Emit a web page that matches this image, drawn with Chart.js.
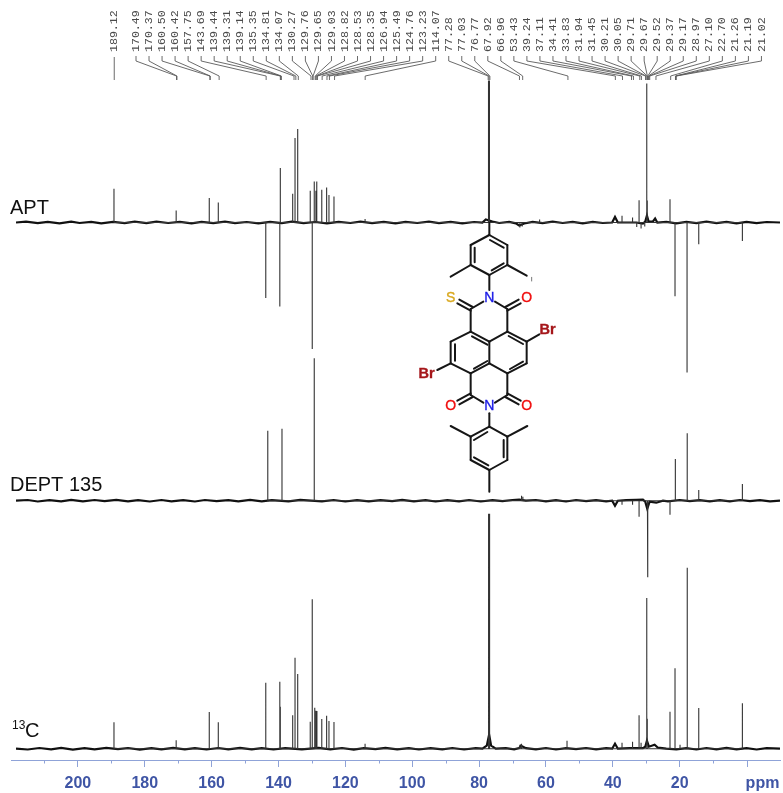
<!DOCTYPE html>
<html>
<head>
<meta charset="utf-8">
<title>APT, DEPT 135 and 13C NMR</title>
<script src="https://cdn.jsdelivr.net/npm/chart.js@4"></script>
<style>
html,body{margin:0;padding:0;background:#fff;}
canvas{display:block;filter:blur(0.35px);}
</style>
</head>
<body>
<canvas id="c" width="783" height="793"></canvas>
<script>
// ---- Peak tables (ppm, signed height) ----
const aptPeakPpm    = [189.2,170.6,160.7,158.0,143.8,139.6,139.45,135.75,135.05,134.25,130.5,129.9,129.3,128.8,128.55,127.05,125.6,124.9,123.4,114.1,77.3,77.1,76.9,67.8,67.1,61.9,37.25,34.1,32.85,32.15,31.55,30.45,29.85,29.7,22.9,21.4,17.8,14.3,1.25];
const aptPeakHeight = [33.7,12,24.5,20,-75.6,-84,54.4,28.7,84.4,93.4,31.7,-126.6,41,31.7,41,32.7,35,27.4,26,3.5,142,142,142,-5,-4,3,6.7,5,-4.5,22.3,-6,-4,139,22,23.3,-73.7,-150,-21.7,-18.4];
const deptPeakPpm    = [143.2,138.95,129.3,67.3,66.9,37.25,34.1,32.15,29.65,29.5,22.9,21.3,17.75,14.3,1.25];
const deptPeakHeight = [70,72,142.4,5,4,-4,-4,-16,-76.6,-18,-14,41.7,67.4,10.7,16.7];
const c13PeakPpm    = [189.2,170.6,160.7,158.0,143.8,139.6,139.45,135.75,135.05,134.25,130.5,129.9,129.15,128.8,128.5,127.05,125.6,124.9,123.4,114.1,77.25,77.1,76.95,76.8,67.8,67.3,53.7,37.25,34.1,32.15,31.55,29.85,29.7,22.9,21.4,19.9,17.8,17.7,14.3,1.25];
const c13PeakHeight = [26.4,8.4,36.7,26.4,66,67,42,33.4,91,74.7,27,149.4,41,38,37.7,29.7,33,27.7,26.7,5,30,235,235,30,4,5,8,6,7,33.4,6,150.7,30,37,80.4,4,181,181,40.7,45.4];

// ---- Baseline ripple (ppm, height), read by eye ----
const aptRipplePpm    = [218.5,215.5,212,209,205.5,202,199.5,196,193,189.5,186,183,179.5,176.5,173,169.5,166,163,159.5,156,153,149.5,146,142.5,139,136,132.5,129,125.5,122,118.5,115.5,112,108.5,105,102,98.5,95,92,88.5,85,81.5,79,78,76,74,71,69,68,66.5,64,61,58,55,52,49,46,43,40.2,39.35,38.5,36,33,31,30.3,29.8,29.3,28,27.35,26.7,24,21,18,15,12,9,6,3,0,-3,-6,-10];
const aptRippleHeight = [0,0.8,-0.7,0.6,-0.8,0.9,-0.5,0.7,-0.9,0.6,-0.6,0.8,-0.7,0.9,-0.5,0.6,-0.8,0.7,-0.6,0.9,-0.7,0.5,-0.8,0.7,-0.6,0.8,-0.7,0.5,-0.9,0.7,-0.5,0.8,-0.7,0.6,-0.8,0.7,-0.5,0.8,-0.6,0.6,-0.8,0.5,0,3,1,-0.5,0.6,-0.8,-3,-1,0.6,-0.7,0.8,-0.5,0.7,-0.8,0.6,-0.5,0,5.5,0,0,0,-1,1,7,1,1,4,0,0.7,-0.8,0.6,-0.7,0.8,-0.6,0.7,-0.8,0.6,-0.7,0.5,0];
const deptRipplePpm    = [218.5,215,212,208.5,205,202,198.5,195,192,188.5,185,182,178.5,175,172,168.5,165,162,158.5,155,152,148.5,145,142,137,133.5,127,123.5,120,116.5,113,109.5,106,103,99.5,96,93,89.5,86,83,79.5,76,73,70,68,66,63,60,57,54,51,48,45,42,40.2,39.35,38.5,36,33,31,30.3,29.7,29.0,27,25,23.5,20,17,14,11,8,5,2,-1,-4,-7,-10];
const deptRippleHeight = [0,0.7,-0.8,0.5,-0.7,0.8,-0.6,0.7,-0.5,0.8,-0.7,0.6,-0.8,0.7,-0.6,0.5,-0.8,0.7,-0.5,0.6,-0.7,0.8,-0.6,0.5,-0.7,0.8,-0.6,0.7,-0.8,0.5,-0.7,0.6,-0.5,0.8,-0.7,0.6,-0.8,0.5,-0.6,0.7,-0.8,0.6,-0.5,0.7,1,0,0.7,-0.6,0.5,-0.8,0.7,-0.5,0.6,-0.7,0,-5,0,0.5,0.8,1,-1,-8,-1,-2,0,-0.6,0.7,-0.5,0.6,-0.7,0.5,-0.6,0.7,-0.5,0.6,-0.7,0];
const c13RipplePpm    = [218.5,215,211.5,208,205,201.5,198,195,191.5,188,185,181.5,178,175,171.5,168,165,161.5,158,155,151.5,148,145,141.5,138,133,128,124.5,121,117.5,114.5,111,108,104.5,101,98,94.5,91,88,84.5,81,79,77.7,77,76.4,75,72,69.5,68,67.5,66,63,60,57,54,51,48,45,42,40.2,39.35,38.5,35,31,30.3,29.8,29.2,27.5,26.5,24,21,18,15,12,9,6,3,0,-3,-6,-10];
const c13RippleHeight = [0,-0.8,0.7,-0.6,0.8,-0.9,0.6,-0.7,0.8,-0.5,0.7,-0.9,0.6,-0.7,0.8,-0.6,0.5,-0.8,0.7,-0.6,0.8,-0.7,0.5,-0.8,0.6,-0.7,0.8,-0.6,0.7,-0.9,0.6,-0.5,0.8,-0.7,0.6,-0.8,0.5,-0.6,0.7,-0.8,0.6,0,3,14,3,0,0.6,-0.7,0.6,3,0.5,-0.6,0.7,-0.8,0.6,-0.5,0.7,-0.6,0.5,0,5,0,0.5,0.5,2,8,2,4,1,0,-0.7,0.6,-0.8,0.7,-0.6,0.8,-0.7,0.5,-0.8,0.6,0];

// ---- Axis and assigned-shift labels ----
const ppmTicks = [200,190,180,170,160,150,140,130,120,110,100,90,80,70,60,50,40,30,20,10,0,210];
const ppmLabelled = [200,180,160,140,120,100,80,60,40,20];
const shiftLabels = ["170.49","170.37","160.50","160.42","157.75","143.69","139.44","139.31","139.14","135.35","134.81","134.07","130.27","129.76","129.65","129.03","128.82","128.53","128.35","126.94","125.49","124.76","123.23","114.07","77.28","77.03","76.77","67.92","66.96","53.43","39.24","37.11","34.41","33.83","31.94","31.45","30.21","30.05","29.71","29.67","29.52","29.37","29.17","28.97","27.10","22.70","21.26","21.19","21.02"];
const isolatedLabel = "189.12";

// ---- Vertical offsets of the three stacked spectra on the shared scale ----
const offsetAPT = 537.5, offsetDEPT = 259.3, offsetC13 = 11.3;

function sticks(ppm, h, off){
  const pts = [];
  ppm.forEach((p,i)=>{ pts.push({x:p,y:off},{x:p,y:off+h[i]},{x:p,y:off}); });
  return pts;
}
function ripple(ppm, h, off){ return ppm.map((p,i)=>({x:p,y:off+h[i]})); }
const stickStyle = {showLine:true,pointRadius:0,borderColor:'#333',borderWidth:1.1,borderJoinStyle:'bevel',tension:0,parsing:false,normalized:false};
const baseStyle  = {showLine:true,pointRadius:0,borderColor:'#111',borderWidth:2.2,tension:0,parsing:false};

// ---- Molecule sketch, in a local coordinate frame ----
const molBonds = [
 // upper mesityl
 [268,-6,268,30],[268,30,322,60],[322,60,322,120],[322,120,268,150],[268,150,212,120],[212,120,212,60],[212,60,268,30],
 [224,68,224,112],[270,45,311,68],[275,136,311,115],
 [212,120,152,155],[322,120,380,152],[268,150,268,195],
 // upper imide
 [250,230,212,252],[285,230,322,252],[212,257,172,235],[218,246,178,224],[322,257,362,235],[316,246,356,224],
 [212,252,212,320],[322,252,322,320],
 // core
 [212,320,268,350],[216,334,262,359],[322,320,268,350],[268,350,268,415],[268,415,212,445],[222,431,262,408],[268,415,322,445],
 [212,320,152,350],[152,350,152,415],[165,358,165,407],[152,415,212,445],
 [322,320,380,350],[326,333,369,357],[380,350,380,415],[380,415,322,445],[330,432,369,410],
 [380,350,418,328],[152,415,112,435],
 // lower imide
 [212,445,212,510],[322,445,322,510],[212,510,250,533],[322,510,285,533],
 [212,505,172,527],[218,516,178,538],[322,505,362,527],[316,516,356,538],[268,565,268,605],
 // lower mesityl
 [268,605,322,635],[322,635,322,705],[322,705,268,735],[268,735,212,705],[212,705,212,635],[212,635,268,605],
 [222,645,262,621],[311,645,311,697],[222,697,265,721],
 [212,635,152,603],[322,635,382,603],[268,735,268,800]
];
const molAtoms = [
 ["N",268,218,"#1a1ae6","14px"],["S",152,218,"#d9a81e","14px"],["O",380,218,"#f01010","14px"],
 ["Br",443,313,"#a5161a","bold 14.5px"],["Br",80,445,"#a5161a","bold 14.5px"],
 ["N",268,543,"#1a1ae6","14px"],["O",152,543,"#f01010","14px"],["O",380,543,"#f01010","14px"]
];

const decor = {
  id:'decor',
  beforeDraw(chart){
    const c = chart.ctx; c.save(); c.fillStyle='#fff'; c.fillRect(0,0,chart.width,chart.height); c.restore();
  },
  afterDraw(chart){
    const c = chart.ctx, xs = chart.scales.x;
    const bottom = chart.chartArea.bottom;
    c.save();
    // minor axis ticks
    c.strokeStyle='#8fa3d8'; c.lineWidth=1;
    ppmTicks.filter(t=>!ppmLabelled.includes(t)).forEach(t=>{
      const x=Math.round(xs.getPixelForValue(t))+0.5;
      c.beginPath(); c.moveTo(x,bottom); c.lineTo(x,bottom+(t===0?7:3.5)); c.stroke();
    });
    // ppm unit
    c.fillStyle='#3f55a5'; c.font='bold 16px "Liberation Sans"'; c.textAlign='center'; c.textBaseline='middle';
    c.fillText('ppm',762.5,783.5);

    // spectrum names
    c.fillStyle='#111'; c.textAlign='left'; c.textBaseline='alphabetic';
    c.font='20px "Liberation Sans"';
    c.fillText('APT',10,213.5);
    c.fillText('DEPT 135',10,491);
    c.fillText('C',25,737);
    c.font='12px "Liberation Sans"';
    c.fillText('13',12,728.5);

    // shift labels with leaders
    c.font='11.6px "Liberation Mono"'; c.fillStyle='#4a4a4a'; c.strokeStyle='#5a5a5a'; c.lineWidth=0.9;
    const put=(txt,x)=>{ c.save(); c.translate(x,52); c.rotate(-Math.PI/2); c.textAlign='left'; c.textBaseline='middle'; c.fillText(txt,0,0); c.restore(); };
    const xIso = xs.getPixelForValue(parseFloat(isolatedLabel));
    put(isolatedLabel,xIso);
    c.beginPath(); c.moveTo(xIso,57); c.lineTo(xIso,80); c.stroke();
    shiftLabels.forEach((s,i)=>{
      const lx = 136+13.03*i;
      const px = xs.getPixelForValue(parseFloat(s));
      put(s,lx);
      c.beginPath(); c.moveTo(lx,56); c.lineTo(lx,61); c.lineTo(px,76); c.lineTo(px,80); c.stroke();
    });

    // molecule
    const mx=z=>400+z/3, my=z=>225+z/3;
    c.strokeStyle='#161616'; c.lineWidth=2; c.lineCap='round';
    molBonds.forEach(b=>{ c.beginPath(); c.moveTo(mx(b[0]),my(b[1])); c.lineTo(mx(b[2]),my(b[3])); c.stroke(); });
    c.strokeStyle='#777'; c.lineWidth=1; c.beginPath(); c.moveTo(mx(395),my(157)); c.lineTo(mx(395),my(168)); c.stroke();
    c.textAlign='center'; c.textBaseline='middle'; c.lineWidth=0.35;
    molAtoms.forEach(a=>{ c.fillStyle=a[3]; c.strokeStyle=a[3]; c.font=a[4]+' "Liberation Sans"'; c.fillText(a[0],mx(a[1]),my(a[2])+0.5); c.strokeText(a[0],mx(a[1]),my(a[2])+0.5); });
    c.restore();
  }
};

new Chart(document.getElementById('c'),{
  type:'scatter',
  data:{datasets:[
    Object.assign({label:'APT',data:sticks(aptPeakPpm,aptPeakHeight,offsetAPT)},stickStyle),
    Object.assign({label:'APT baseline',data:ripple(aptRipplePpm,aptRippleHeight,offsetAPT)},baseStyle),
    Object.assign({label:'DEPT 135',data:sticks(deptPeakPpm,deptPeakHeight,offsetDEPT)},stickStyle),
    Object.assign({label:'DEPT baseline',data:ripple(deptRipplePpm,deptRippleHeight,offsetDEPT)},baseStyle),
    Object.assign({label:'13C',data:sticks(c13PeakPpm,c13PeakHeight,offsetC13)},stickStyle),
    Object.assign({label:'13C baseline',data:ripple(c13RipplePpm,c13RippleHeight,offsetC13)},baseStyle)
  ]},
  options:{
    responsive:false,maintainAspectRatio:false,animation:false,
    layout:{padding:{left:11,right:3,top:0,bottom:0}},
    plugins:{legend:{display:false},tooltip:{enabled:false},title:{display:false}},
    scales:{
      x:{
        type:'linear',reverse:true,min:-10,max:220,
        border:{color:'#8fa3d8',width:1},
        grid:{drawOnChartArea:false,drawTicks:true,tickLength:7,tickWidth:1,
              tickColor:ctx=>ppmLabelled.includes(ctx.tick.value)?'#8fa3d8':'rgba(0,0,0,0)'},
        ticks:{autoSkip:false,maxRotation:0,minRotation:0,padding:7,color:'#3f55a5',
               font:{family:'"Liberation Sans"',size:16,weight:'bold'},
               callback:v=>ppmLabelled.includes(v)?String(v):''},
        afterBuildTicks(s){ s.ticks = ppmTicks.slice().sort((a,b)=>a-b).map(v=>({value:v})); },
        afterFit(s){ s.height=33; s.paddingLeft=0; s.paddingRight=0; }
      },
      y:{type:'linear',display:false,min:0,max:760}
    }
  },
  plugins:[decor]
});
</script>
</body>
</html>
